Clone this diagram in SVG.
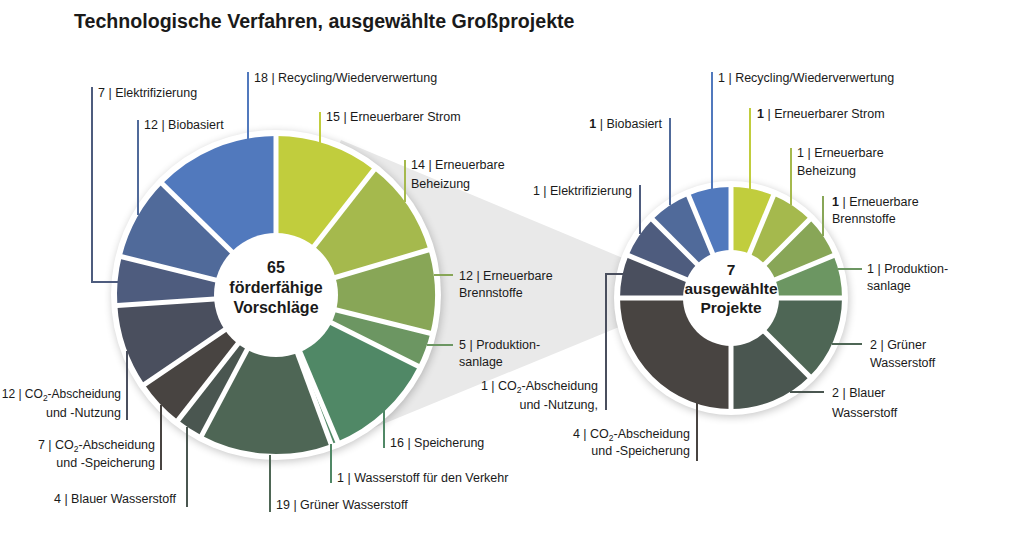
<svg xmlns="http://www.w3.org/2000/svg" width="1033" height="554" viewBox="0 0 1033 554">
<defs>
<filter id="sh" x="-20%" y="-20%" width="140%" height="140%"><feGaussianBlur stdDeviation="4"/></filter>
<style>
text{font-family:"Liberation Sans",Arial,sans-serif;font-size:12.5px;fill:#1a1a1a}
.t{font-size:19.6px;font-weight:bold}
.c{font-size:16px;font-weight:bold;text-anchor:middle}
.c2{font-size:15.5px;font-weight:bold;text-anchor:middle}
.e{text-anchor:end}
.b{font-weight:bold}
.sm{font-size:12px}
.sub{font-size:8.5px}
.arcL{fill:none;stroke-width:101}
.arcR{fill:none;stroke-width:66}
.sep line{stroke:#fff;stroke-width:5}
.ld path{fill:none;stroke-width:2}
</style>
</defs>
<rect width="1033" height="554" fill="#fff"/>
<text class="t" x="74" y="28">Technologische Verfahren, ausgewählte Großprojekte</text>
<polygon id="zoom-wedge" points="276,295 341,140 704,292 337,443" fill="#e9e9e9"/>

<g id="left-donut">
<circle cx="277" cy="297" r="165" fill="#000" opacity="0.22" filter="url(#sh)"/>
<circle cx="276" cy="295" r="165" fill="#fff"/>
<g id="L-strom"><circle class="arcL" transform="translate(276,295) rotate(-90)" r="108.5" pathLength="142" stroke="#c1cd3d" stroke-dasharray="15.1 300"/>
<text x="326" y="121">15 | Erneuerbarer Strom</text></g>
<g id="L-beheizung"><circle class="arcL" transform="translate(276,295) rotate(-51.972)" r="108.5" pathLength="142" stroke="#a5b94d" stroke-dasharray="14.1 300"/>
<text x="411" y="169">14 | Erneuerbare</text><text x="411" y="188">Beheizung</text></g>
<g id="L-brennstoffe"><circle class="arcL" transform="translate(276,295) rotate(-16.479)" r="108.5" pathLength="142" stroke="#88a657" stroke-dasharray="12.1 300"/>
<text x="459" y="280">12 | Erneuerbare</text><text x="459" y="297">Brennstoffe</text></g>
<g id="L-produktion"><circle class="arcL" transform="translate(276,295) rotate(13.944)" r="108.5" pathLength="142" stroke="#6c9662" stroke-dasharray="5.1 300"/>
<text x="459" y="349">5 | Produktion-</text><text x="459" y="366">sanlage</text></g>
<g id="L-speicherung"><circle class="arcL" transform="translate(276,295) rotate(26.620)" r="108.5" pathLength="142" stroke="#508866" stroke-dasharray="16.1 300"/>
<text x="390" y="447">16 | Speicherung</text></g>
<g id="L-verkehr"><circle class="arcL" transform="translate(276,295) rotate(67.183)" r="108.5" pathLength="142" stroke="#508866" stroke-dasharray="1.1 300"/>
<text x="337" y="482">1 | Wasserstoff für den Verkehr</text></g>
<g id="L-gruen"><circle class="arcL" transform="translate(276,295) rotate(69.718)" r="108.5" pathLength="142" stroke="#4e6655" stroke-dasharray="19.1 300"/>
<text x="276" y="509">19 | Grüner Wasserstoff</text></g>
<g id="L-blau"><circle class="arcL" transform="translate(276,295) rotate(117.887)" r="108.5" pathLength="142" stroke="#4a5650" stroke-dasharray="4.1 300"/>
<text class="e" x="176" y="503">4 | Blauer Wasserstoff</text></g>
<g id="L-ccs"><circle class="arcL" transform="translate(276,295) rotate(128.028)" r="108.5" pathLength="142" stroke="#484441" stroke-dasharray="7.1 300"/>
<text class="e" x="155" y="449">7 | CO<tspan class="sub" dy="3">2</tspan><tspan dy="-3">-Abscheidung</tspan></text><text class="e" x="155" y="467">und -Speicherung</text></g>
<g id="L-ccu"><circle class="arcL" transform="translate(276,295) rotate(145.775)" r="108.5" pathLength="142" stroke="#4a4f5e" stroke-dasharray="12.1 300"/>
<text class="e sm" x="121" y="398">12 | CO<tspan class="sub" dy="3">2</tspan><tspan dy="-3">-Abscheidung</tspan></text><text class="e" x="121" y="417">und -Nutzung</text></g>
<g id="L-elektr"><circle class="arcL" transform="translate(276,295) rotate(176.197)" r="108.5" pathLength="142" stroke="#4e5c7e" stroke-dasharray="7.1 300"/>
<text x="98" y="97">7 | Elektrifizierung</text></g>
<g id="L-bio"><circle class="arcL" transform="translate(276,295) rotate(193.944)" r="108.5" pathLength="142" stroke="#506a9a" stroke-dasharray="12.1 300"/>
<text x="144" y="129">12 | Biobasiert</text></g>
<g id="L-recycling"><circle class="arcL" transform="translate(276,295) rotate(224.366)" r="108.5" pathLength="142" stroke="#5179bd" stroke-dasharray="18 300"/>
<text x="254" y="82">18 | Recycling/Wiederverwertung</text></g>
<g class="sep" transform="translate(276,295)">
<line y2="-163"/><line y2="-163" transform="rotate(38.028)"/><line y2="-163" transform="rotate(73.521)"/><line y2="-163" transform="rotate(103.944)"/><line y2="-163" transform="rotate(116.620)"/><line y2="-163" transform="rotate(157.183)"/><line y2="-163" transform="rotate(159.718)"/><line y2="-163" transform="rotate(207.887)"/><line y2="-163" transform="rotate(218.028)"/><line y2="-163" transform="rotate(235.775)"/><line y2="-163" transform="rotate(266.197)"/><line y2="-163" transform="rotate(283.944)"/><line y2="-163" transform="rotate(314.366)"/>
</g>
<circle cx="276" cy="295" r="62" fill="#fff"/>
<text class="c" x="276" y="273">65</text><text class="c" x="276" y="293">förderfähige</text><text class="c" x="276" y="313">Vorschläge</text>
</g>

<g id="right-donut">
<circle cx="732" cy="300" r="117" fill="#000" opacity="0.22" filter="url(#sh)"/>
<circle cx="731" cy="298" r="117" fill="#fff"/>
<g id="R-strom"><circle class="arcR" transform="translate(731,298) rotate(-90)" r="78" pathLength="16" stroke="#c1cd3d" stroke-dasharray="1.02 40"/>
<text x="757" y="118"><tspan class="b">1</tspan> | Erneuerbarer Strom</text></g>
<g id="R-beheizung"><circle class="arcR" transform="translate(731,298) rotate(-67.5)" r="78" pathLength="16" stroke="#a5b94d" stroke-dasharray="1.02 40"/>
<text x="797" y="157">1 | Erneuerbare</text><text x="797" y="175">Beheizung</text></g>
<g id="R-brennstoffe"><circle class="arcR" transform="translate(731,298) rotate(-45)" r="78" pathLength="16" stroke="#88a657" stroke-dasharray="1.02 40"/>
<text x="832" y="206"><tspan class="b">1</tspan> | Erneuerbare</text><text x="832" y="223">Brennstoffe</text></g>
<g id="R-produktion"><circle class="arcR" transform="translate(731,298) rotate(-22.5)" r="78" pathLength="16" stroke="#6c9662" stroke-dasharray="1.02 40"/>
<text x="867" y="273">1 | Produktion-</text><text x="867" y="290">sanlage</text></g>
<g id="R-gruen"><circle class="arcR" transform="translate(731,298)" r="78" pathLength="16" stroke="#4e6655" stroke-dasharray="2.02 40"/>
<text x="870" y="349">2 | Grüner</text><text x="870" y="367">Wasserstoff</text></g>
<g id="R-blau"><circle class="arcR" transform="translate(731,298) rotate(45)" r="78" pathLength="16" stroke="#4a5650" stroke-dasharray="2.02 40"/>
<text x="832" y="397">2 | Blauer</text><text x="832" y="417">Wasserstoff</text></g>
<g id="R-ccs"><circle class="arcR" transform="translate(731,298) rotate(90)" r="78" pathLength="16" stroke="#484441" stroke-dasharray="4.02 40"/>
<text class="e" x="690" y="438">4 | CO<tspan class="sub" dy="3">2</tspan><tspan dy="-3">-Abscheidung</tspan></text><text class="e" x="690" y="455">und -Speicherung</text></g>
<g id="R-ccu"><circle class="arcR" transform="translate(731,298) rotate(180)" r="78" pathLength="16" stroke="#4a4f5e" stroke-dasharray="1.02 40"/>
<text class="e" x="598" y="390">1 | CO<tspan class="sub" dy="3">2</tspan><tspan dy="-3">-Abscheidung</tspan></text><text class="e" x="598" y="409">und -Nutzung,</text></g>
<g id="R-elektr"><circle class="arcR" transform="translate(731,298) rotate(202.5)" r="78" pathLength="16" stroke="#4e5c7e" stroke-dasharray="1.02 40"/>
<text class="e" x="632" y="195">1 | Elektrifizierung</text></g>
<g id="R-bio"><circle class="arcR" transform="translate(731,298) rotate(225)" r="78" pathLength="16" stroke="#506a9a" stroke-dasharray="1.02 40"/>
<text class="e" x="662" y="128"><tspan class="b">1</tspan> | Biobasiert</text></g>
<g id="R-recycling"><circle class="arcR" transform="translate(731,298) rotate(247.5)" r="78" pathLength="16" stroke="#5179bd" stroke-dasharray="1.02 40"/>
<text x="718" y="82">1 | Recycling/Wiederverwertung</text></g>
<g class="sep" transform="translate(731,298)">
<line y2="-114"/><line y2="-114" transform="rotate(22.5)"/><line y2="-114" transform="rotate(45)"/><line y2="-114" transform="rotate(67.5)"/><line y2="-114" transform="rotate(90)"/><line y2="-114" transform="rotate(135)"/><line y2="-114" transform="rotate(180)"/><line y2="-114" transform="rotate(270)"/><line y2="-114" transform="rotate(292.5)"/><line y2="-114" transform="rotate(315)"/><line y2="-114" transform="rotate(337.5)"/>
</g>
<circle cx="731" cy="298" r="48" fill="#fff"/>
<text class="c2" x="731" y="275">7</text><text class="c2" x="731" y="294">ausgewählte</text><text class="c2" x="731" y="313">Projekte</text>
</g>

<g id="connectors" class="ld">
<path d="M248 72V139" stroke="#5179bd"/>
<path d="M92 87V282H118" stroke="#4e5c7e"/>
<path d="M138 120V215" stroke="#506a9a"/>
<path d="M320 112V143" stroke="#c1cd3d"/>
<path d="M405 160V202" stroke="#a5b94d"/>
<path d="M434 275H453" stroke="#88a657"/>
<path d="M427 345H453" stroke="#6c9662"/>
<path d="M384 410V448" stroke="#508866"/>
<path d="M331 444V483" stroke="#508866"/>
<path d="M270 455V512" stroke="#4e6655"/>
<path d="M187 427V507" stroke="#4a5650"/>
<path d="M161 405V470" stroke="#484441"/>
<path d="M127 351V420" stroke="#4a4f5e"/>
<path d="M712 72V189" stroke="#5179bd"/>
<path d="M750 108V189" stroke="#c1cd3d"/>
<path d="M670 118V205" stroke="#506a9a"/>
<path d="M791 148V205" stroke="#a5b94d"/>
<path d="M640 185V234" stroke="#4e5c7e"/>
<path d="M823 196V236" stroke="#88a657"/>
<path d="M838 269H862" stroke="#6c9662"/>
<path d="M832 344H862" stroke="#4e6655"/>
<path d="M790 392H824" stroke="#4a5650"/>
<path d="M623 274H606V410" stroke="#4a4f5e"/>
<path d="M697 403V461" stroke="#484441"/>
</g>
</svg>
